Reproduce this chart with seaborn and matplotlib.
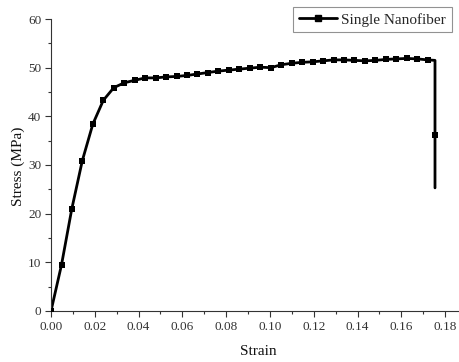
import matplotlib
matplotlib.use("Agg")
import matplotlib.pyplot as plt
from matplotlib.lines import Line2D
from matplotlib.ticker import MultipleLocator
import seaborn as sns
import pandas as pd

# Measured tensile curve of a single nanofiber (sampled points carry markers)
strain = [0.0, 0.0048, 0.0095, 0.0143, 0.0191, 0.0239, 0.0287, 0.0335, 0.0382,
          0.0430, 0.0478, 0.0526, 0.0574, 0.0621, 0.0669, 0.0717, 0.0765, 0.0813,
          0.0860, 0.0908, 0.0956, 0.1004, 0.1052, 0.1099, 0.1147, 0.1195, 0.1243,
          0.1291, 0.1338, 0.1386, 0.1434, 0.1482, 0.1530, 0.1577, 0.1625, 0.1673,
          0.1721]
stress = [0.0, 9.5, 21.0, 30.9, 38.4, 43.3, 45.9, 46.9, 47.4, 47.9, 47.9, 48.1,
          48.2, 48.4, 48.7, 49.0, 49.3, 49.5, 49.7, 49.9, 50.1, 50.0, 50.6, 50.9,
          51.1, 51.2, 51.4, 51.6, 51.6, 51.5, 51.4, 51.5, 51.7, 51.8, 51.9, 51.8,
          51.6]

# Fracture: the load drops at the break strain
break_strain = [0.1754, 0.1754, 0.1754]
break_stress = [51.5, 36.2, 25.3]
break_marked = [False, True, False]

series_name = "Single Nanofiber"
x_ticks = [0.00, 0.02, 0.04, 0.06, 0.08, 0.10, 0.12, 0.14, 0.16, 0.18]
y_ticks = [0, 10, 20, 30, 40, 50, 60]

curve = pd.DataFrame({
    "Strain": strain + break_strain,
    "Stress": stress + break_stress,
    "marked": [True] * len(strain) + break_marked,
})

sns.set_style("ticks")
plt.rcParams["font.family"] = ["Liberation Serif", "DejaVu Serif"]

fig = plt.figure(figsize=(4.6, 3.62), dpi=100)
ax = fig.add_axes([0.1109, 0.1409, 0.889, 0.8066])

sns.lineplot(data=curve, x="Strain", y="Stress", sort=False, estimator=None,
             color="black", linewidth=2.0, ax=ax)
sns.scatterplot(data=curve[curve["marked"]], x="Strain", y="Stress",
                marker="s", s=18, color="black", edgecolor="black",
                linewidth=0, ax=ax, zorder=3)

ax.set_xlim(0, 0.1868)
ax.set_ylim(0, 60)
ax.set_xticks(x_ticks)
ax.set_xticklabels([f"{t:.2f}" for t in x_ticks])
ax.set_yticks(y_ticks)
ax.xaxis.set_minor_locator(MultipleLocator(0.01))
ax.yaxis.set_minor_locator(MultipleLocator(5))
ax.tick_params(which="major", direction="out", length=4, width=0.8,
               labelsize=9.5, colors="#333333", pad=3)
ax.tick_params(which="minor", direction="out", length=2.5, width=0.8,
               colors="#333333")
for s in ("top", "right"):
    ax.spines[s].set_visible(False)
for s in ("left", "bottom"):
    ax.spines[s].set_color("#333333")
    ax.spines[s].set_linewidth(0.8)

ax.set_xlabel("Strain", fontsize=11, color="#111111")
ax.set_ylabel("Stress (MPa)", fontsize=11, color="#111111")
ax.xaxis.set_label_coords(0.506, -0.116)
ax.yaxis.set_label_coords(-0.064, 0.497)

handle = Line2D([], [], color="black", linewidth=2.0, marker="s",
                markersize=4.2)
leg = ax.legend([handle], [series_name], loc="upper right",
                bbox_to_anchor=(452 / 460, 1 - 7 / 362),
                bbox_transform=fig.transFigure, fontsize=11,
                frameon=True, fancybox=False, handlelength=2.5,
                handletextpad=0.3, borderpad=0.38, borderaxespad=0)
leg.get_frame().set_edgecolor("#777777")
leg.get_frame().set_linewidth(0.8)

fig.savefig("out.png", dpi=100)
